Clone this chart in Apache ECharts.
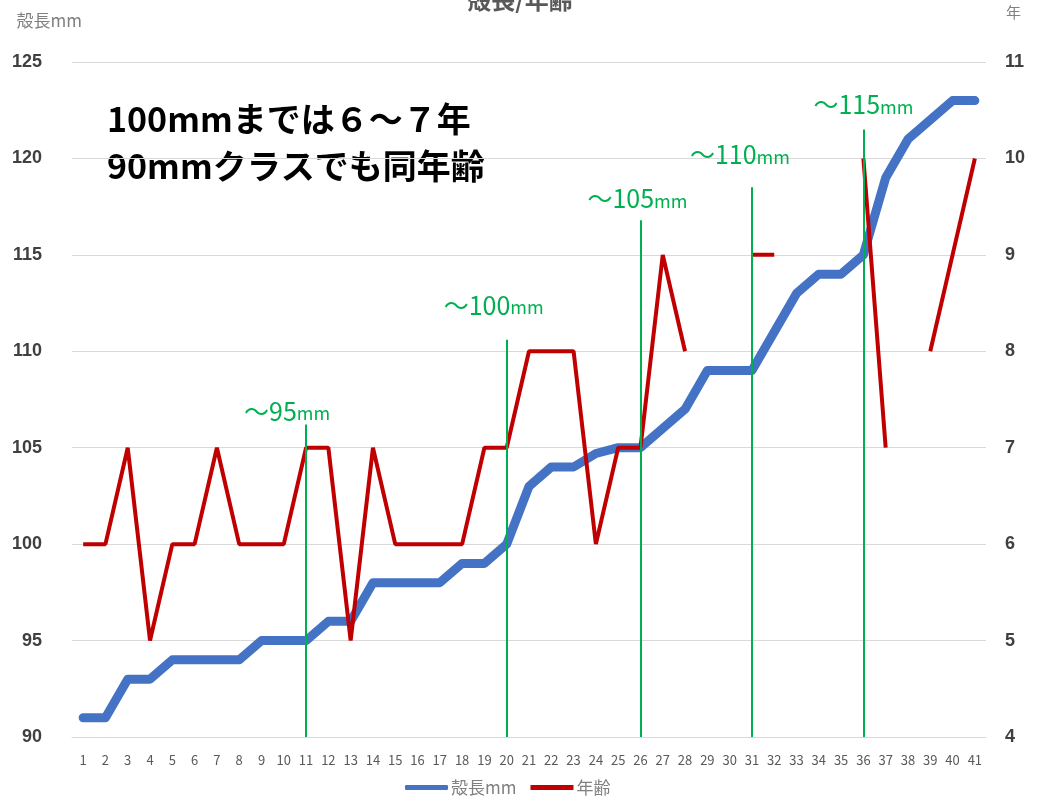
<!DOCTYPE html>
<html>
<head>
<meta charset="utf-8">
<script src="https://cdn.jsdelivr.net/npm/echarts@6/dist/echarts.min.js"></script>
<style>
  html, body { margin: 0; padding: 0; background: #fff; }
  #main { width: 1040px; height: 803px; }
</style>
</head>
<body>
<div id="main"></div>
<script>
// 個体番号
var categories = ['1', '2', '3', '4', '5', '6', '7', '8', '9', '10',
  '11', '12', '13', '14', '15', '16', '17', '18', '19', '20',
  '21', '22', '23', '24', '25', '26', '27', '28', '29', '30',
  '31', '32', '33', '34', '35', '36', '37', '38', '39', '40', '41'];

// 殻長 (mm)
var shellLength = [91, 91, 93, 93, 94, 94, 94, 94, 95, 95,
  95, 96, 96, 98, 98, 98, 98, 99, 99, 100,
  103, 104, 104, 104.7, 105, 105, 106, 107, 109, 109,
  109, 111, 113, 114, 114, 115, 119, 121, 122, 123, 123];

// 年齢 (null = 欠測)
var age = [6, 6, 7, 5, 6, 6, 7, 6, 6, 6,
  7, 7, 5, 7, 6, 6, 6, 6, 7, 7,
  8, 8, 8, 6, 7, 7, 9, 8, null, null,
  9, 9, null, null, null, 10, 7, null, 8, 9, 10];

// 縦の区切り線 (～95mm など)
var markCats = ['11', '20', '26', '31', '36'];
var markTops = [106.2, 110.6, 116.8, 118.5, 121.5];
var markNames = ['～95', '～100', '～105', '～110', '～115'];
var markLabelY = [106.9, 112.4, 117.9, 120.2, 122.8];

var leftTicks = { min: 90, max: 125, interval: 5 };
var rightTicks = { min: 4, max: 11, interval: 1 };

var green = '#00B050';
var gray = '#595959';
var lightGray = '#808080';

var lineData = [];
var labelData = [];
var labelShift = [-19, -13, -3, -12, 0];
for (var i = 0; i < markCats.length; i++) {
  lineData.push([
    { xAxis: markCats[i], yAxis: markTops[i] },
    { xAxis: markCats[i], yAxis: leftTicks.min }
  ]);
  labelData.push({
    coord: [markCats[i], markLabelY[i]],
    value: markNames[i],
    label: { offset: [labelShift[i], 0] }
  });
}

var chart = echarts.init(document.getElementById('main'));

var option = {
  backgroundColor: '#fff',
  animation: false,
  title: {
    text: '殻長/年齢',
    left: 'center',
    top: -17,
    textStyle: { color: gray, fontSize: 24, fontWeight: 'bold', fontFamily: 'Noto Sans CJK JP' }
  },
  grid: { left: 72, right: 54, top: 62, bottom: 66 },
  legend: {
    bottom: 2,
    left: 400,
    itemGap: 14,
    textStyle: { color: lightGray, fontSize: 17, padding: [0, 0, 0, -2], fontFamily: 'Noto Sans CJK JP' },
    data: [
      { name: '殻長mm', icon: 'roundRect', itemStyle: { color: '#4472C4' } },
      { name: '年齢', icon: 'rect', itemStyle: { color: '#C00000' } }
    ],
    itemWidth: 43,
    itemHeight: 5
  },
  graphic: [{
    type: 'text',
    left: 107,
    top: 96,
    style: {
      text: '100mmまでは６～７年\n90mmクラスでも同年齢',
      font: 'bold 34px "Noto Sans CJK JP"',
      lineHeight: 47,
      fill: '#000'
    }
  }],
  xAxis: {
    type: 'category',
    data: categories,
    boundaryGap: true,
    axisLine: { lineStyle: { color: '#d9d9d9' } },
    axisTick: { show: false },
    axisLabel: { interval: 0, color: gray, fontSize: 13, margin: 17, fontFamily: 'Noto Sans CJK JP' }
  },
  yAxis: [{
    type: 'value',
    name: '殻長mm',
    nameLocation: 'end',
    nameGap: 33,
    nameTextStyle: { color: lightGray, fontSize: 17, align: 'right', padding: [0, -10, 0, 0], fontFamily: 'Noto Sans CJK JP' },
    min: leftTicks.min,
    max: leftTicks.max,
    interval: leftTicks.interval,
    axisLine: { show: false },
    axisTick: { show: false },
    splitLine: { lineStyle: { color: '#d9d9d9', width: 1 } },
    axisLabel: { color: '#404040', fontSize: 18, fontWeight: 'bold', margin: 30, fontFamily: 'Liberation Sans' }
  }, {
    type: 'value',
    name: '年',
    nameLocation: 'end',
    nameGap: 42,
    nameTextStyle: { color: lightGray, fontSize: 15, align: 'left', padding: [0, 0, 0, 20], fontFamily: 'Noto Sans CJK JP' },
    min: rightTicks.min,
    max: rightTicks.max,
    interval: rightTicks.interval,
    axisLine: { show: false },
    axisTick: { show: false },
    splitLine: { show: false },
    axisLabel: { color: '#404040', fontSize: 18, fontWeight: 'bold', margin: 19, fontFamily: 'Liberation Sans' }
  }],
  series: [{
    name: '殻長mm',
    type: 'line',
    yAxisIndex: 0,
    data: shellLength,
    symbol: 'none',
    z: 3,
    lineStyle: { color: '#4472C4', width: 9, cap: 'round', join: 'round' },
    itemStyle: { color: '#4472C4' },
    markLine: {
      silent: true,
      symbol: 'none',
      label: { show: false },
      lineStyle: { color: green, width: 2, type: 'solid' },
      data: lineData
    },
    markPoint: {
      silent: true,
      symbol: 'circle',
      symbolSize: 1,
      itemStyle: { color: 'rgba(0,0,0,0)' },
      label: {
        show: true,
        position: 'inside',
        formatter: function (p) { return '{a|' + p.value + '}{b|mm}'; },
        rich: {
          a: { color: green, fontSize: 25, fontFamily: 'Noto Sans CJK JP' },
          b: { color: green, fontSize: 18, fontFamily: 'Noto Sans CJK JP', padding: [5, 0, 0, 0] }
        }
      },
      data: labelData
    }
  }, {
    name: '年齢',
    type: 'line',
    yAxisIndex: 1,
    data: age,
    symbol: 'none',
    connectNulls: false,
    z: 4,
    lineStyle: { color: '#C00000', width: 4 },
    itemStyle: { color: '#C00000' }
  }]
};

chart.setOption(option);
</script>
</body>
</html>
